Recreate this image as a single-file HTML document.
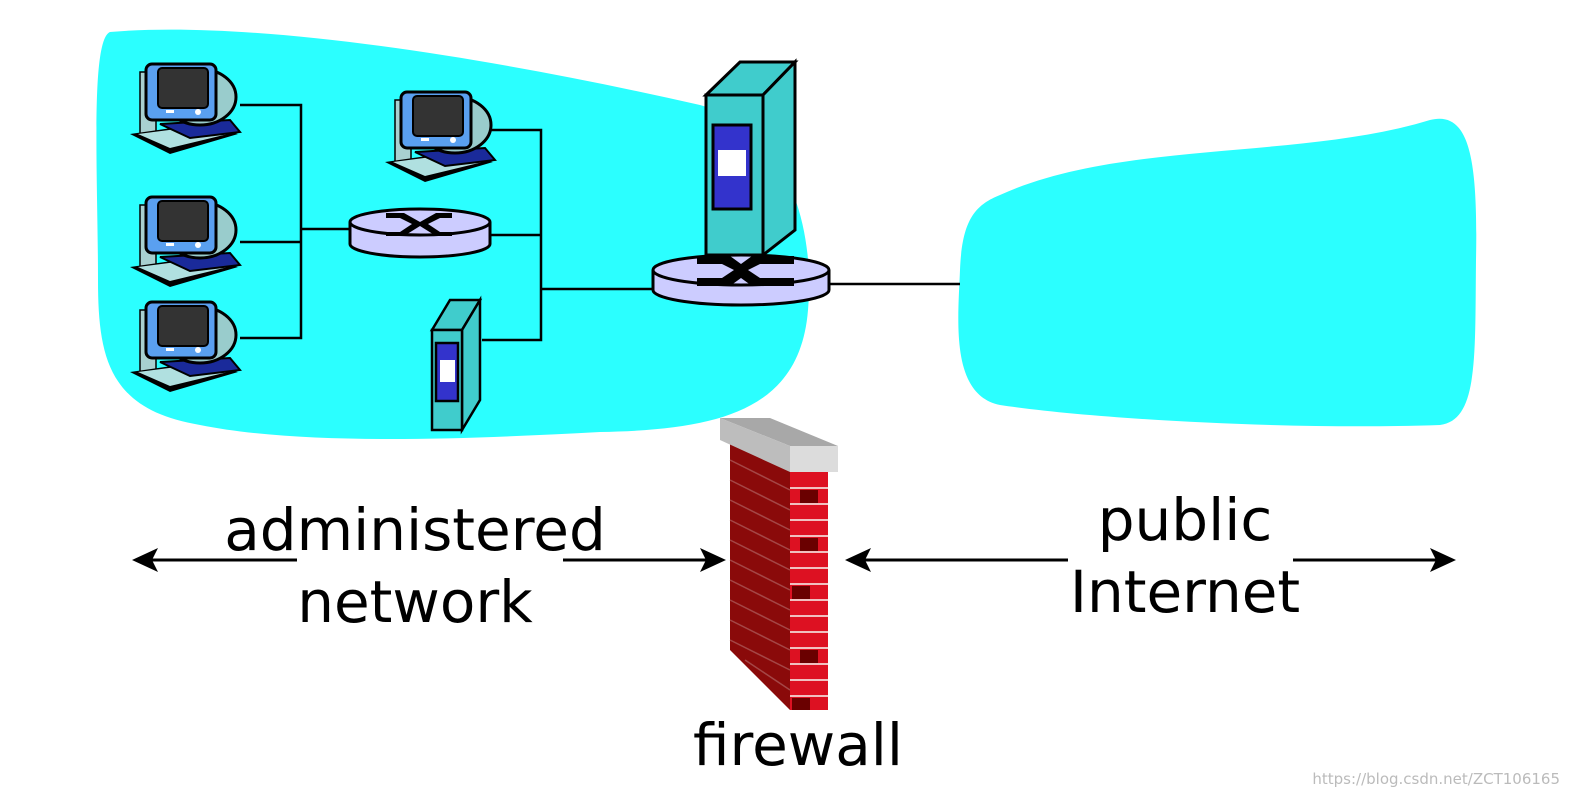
<!DOCTYPE html>
<html><head><meta charset="utf-8"><style>
body{margin:0;background:#fff;}
svg{display:block;}
text{font-family:"DejaVu Sans","Liberation Sans",sans-serif;}
</style></head><body>
<svg width="1594" height="810" viewBox="0 0 1594 810" xmlns="http://www.w3.org/2000/svg">
<defs>
<g id="pc">
  <rect x="10" y="10" width="16" height="62" fill="#a8d0d0" stroke="#000" stroke-width="1.5"/>
  <path d="M0,72 L70,62 L108,72 L40,92 Z" fill="#000"/>
  <path d="M8,72 L70,64 L98,72 L40,86 Z" fill="#b0e0e0"/>
  <path d="M30,62 L100,58 L110,70 L60,76 Z" fill="#1a2a9a" stroke="#000" stroke-width="2"/>
  <ellipse cx="70" cy="35" rx="36" ry="28" fill="#9cc" stroke="#000" stroke-width="3"/>
  <rect x="16" y="2" width="70" height="56" rx="6" fill="#5aa0f0" stroke="#000" stroke-width="3"/>
  <rect x="28" y="6" width="50" height="40" rx="4" fill="#333" stroke="#000" stroke-width="2"/>
  <circle cx="68" cy="50" r="3" fill="#fff"/><rect x="36" y="48" width="8" height="3" fill="#fff"/>
</g>
</defs>
<!-- clouds -->
<path d="M110,32 C250,20 480,55 700,105 C790,130 815,230 808,310 C800,410 720,430 600,432 C450,440 300,445 200,425 C110,410 98,360 98,280 C98,180 90,40 110,32 Z" fill="#2bffff"/>
<path d="M1000,195 C1120,140 1300,160 1430,120 C1470,110 1478,160 1476,260 C1475,360 1478,420 1440,425 C1300,430 1100,420 1000,405 C950,395 958,320 960,270 C962,220 975,205 1000,195 Z" fill="#2bffff"/>
<!-- wires -->
<g stroke="#000" stroke-width="2.5" fill="none">
<path d="M240,105 H301 V338 H240 M240,242 H301 M301,229 H352"/>
<path d="M488,130 H541 V340 H482 M490,235 H541 M541,289 H655"/>
<path d="M828,284 H960"/>
</g>
<use href="#pc" x="130" y="62"/>
<use href="#pc" x="385" y="90"/>
<use href="#pc" x="130" y="195"/>
<use href="#pc" x="130" y="300"/>
<!-- switch 1 -->
<g stroke="#000" stroke-width="3">
<path d="M350,222 V244 A70,13 0 0 0 490,244 V222" fill="#ccccff"/>
<ellipse cx="420" cy="222" rx="70" ry="13" fill="#ccccff"/>
</g>
<path d="M386,213 H404 L420,222 L436,213 H452 V218 H440 L428,224 L440,232 H452 V236 H436 L420,226 L404,236 H386 V232 H400 L412,224 L400,218 H386 Z" fill="#000"/>
<!-- big server -->
<g stroke="#000" stroke-width="3">
<path d="M706,95 L740,62 H795 L763,95 Z" fill="#40cccc"/>
<path d="M763,95 L795,62 V230 L763,255 Z" fill="#40cccc"/>
<rect x="706" y="95" width="57" height="160" fill="#40cccc"/>
<rect x="713" y="125" width="38" height="84" fill="#3333cc"/>
</g>
<rect x="718" y="150" width="28" height="26" fill="#fff"/>
<!-- switch 2 -->
<g stroke="#000" stroke-width="3">
<path d="M653,270 V290 A88,15 0 0 0 829,290 V270" fill="#ccccff"/>
<ellipse cx="741" cy="270" rx="88" ry="15" fill="#ccccff"/>
</g>
<path d="M697,256 H730 L741,264 L752,256 H794 V264 H760 L748,270 L760,278 H794 V286 H752 L741,278 L730,286 H697 V278 H722 L734,270 L722,264 H697 Z" fill="#000"/>
<!-- small server -->
<g stroke="#000" stroke-width="2.5">
<path d="M432,330 L450,300 H480 L462,330 Z" fill="#40cccc"/>
<path d="M462,330 L480,300 V400 L462,430 Z" fill="#40cccc"/>
<rect x="432" y="330" width="30" height="100" fill="#40cccc"/>
<rect x="436" y="343" width="22" height="58" fill="#3333cc"/>
</g>
<rect x="440" y="360" width="15" height="22" fill="#fff"/>
<!-- firewall -->
<path d="M730,440 L790,470 V710 L730,650 Z" fill="#8a0a0a"/>
<g stroke="#b06060" stroke-width="1.5" opacity="0.7">
<path d="M730,460 L790,490 M730,480 L790,510 M730,500 L790,530 M730,520 L790,550 M730,540 L790,570 M730,560 L790,590 M730,580 L790,610 M730,600 L790,630 M730,620 L790,650 M730,640 L790,670 M745,660 L790,690"/>
</g>
<rect x="790" y="470" width="38" height="240" fill="#dd1122"/>
<g stroke="#f0c0c0" stroke-width="2">
<path d="M790,488 H828 M790,504 H828 M790,520 H828 M790,536 H828 M790,552 H828 M790,568 H828 M790,584 H828 M790,600 H828 M790,616 H828 M790,632 H828 M790,648 H828 M790,664 H828 M790,680 H828 M790,696 H828"/>
</g>
<g fill="#6a0000"><rect x="800" y="490" width="18" height="13"/><rect x="800" y="538" width="18" height="13"/><rect x="792" y="586" width="18" height="13"/><rect x="800" y="650" width="18" height="13"/><rect x="792" y="698" width="18" height="12"/></g>
<path d="M720,418 H770 L838,446 H790 Z" fill="#a8a8a8"/>
<path d="M720,418 L790,446 V472 L720,440 Z" fill="#bdbdbd"/>
<rect x="790" y="446" width="48" height="26" fill="#dcdcdc"/>
<!-- arrows -->
<g stroke="#000" stroke-width="3">
<path d="M145,560 H297 M563,560 H712 M858,560 H1068 M1293,560 H1442"/>
</g>
<g fill="#000">
<path d="M132,560 L158,548 L152,560 L158,572 Z"/>
<path d="M726,560 L700,548 L706,560 L700,572 Z"/>
<path d="M845,560 L871,548 L865,560 L871,572 Z"/>
<path d="M1456,560 L1430,548 L1436,560 L1430,572 Z"/>
</g>
<g font-size="58" text-anchor="middle" fill="#000">
<text x="415" y="550">administered</text>
<text x="415" y="622">network</text>
<text x="1185" y="540">public</text>
<text x="1185" y="612">Internet</text>
<text x="798" y="765">firewall</text>
</g>
<text x="1560" y="784" font-size="15" fill="#bbb" text-anchor="end" font-family="Liberation Sans">https://blog.csdn.net/ZCT106165</text>
</svg>
</body></html>
